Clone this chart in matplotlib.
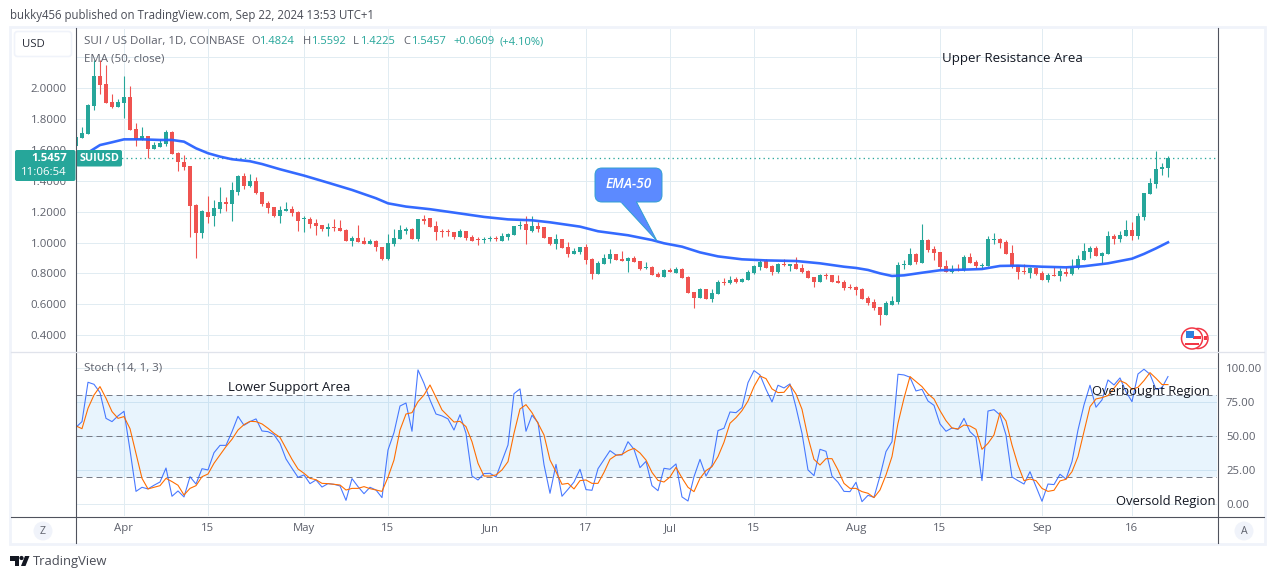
import matplotlib
matplotlib.use("Agg")
import matplotlib.dates as mdates
import matplotlib.pyplot as plt
import numpy as np
import pandas as pd
from matplotlib.patches import Circle, FancyBboxPatch, Polygon, Rectangle

plt.rcParams['font.family'] = ['Open Sans', 'DejaVu Sans']

# daily candles, Mar 24 - Sep 22 2024
dates = pd.date_range('2024-03-24', '2024-09-22')

opens = [
    1.628,1.680,1.704,1.885,2.080,2.028,1.911,1.881,1.907,1.942,
    1.734,1.665,1.691,1.607,1.622,1.639,1.717,1.579,1.520,1.496,
    1.243,1.064,1.198,1.172,1.218,1.263,1.250,1.328,1.432,1.367,
    1.399,1.328,1.256,1.230,1.172,1.207,1.215,1.198,1.150,1.155,
    1.127,1.114,1.090,1.101,1.094,1.081,1.012,1.029,1.010,0.993,
    1.010,0.971,0.893,0.991,1.023,1.077,1.090,1.023,1.153,1.157,
    1.107,1.075,1.073,1.068,1.036,1.075,1.036,1.023,1.014,1.025,
    1.032,1.012,1.036,1.049,1.105,1.120,1.075,1.107,1.101,1.036,
    0.990,1.023,0.971,0.926,0.939,0.971,0.893,0.796,0.861,0.893,
    0.926,0.893,0.882,0.900,0.880,0.835,0.841,0.796,0.777,0.822,
    0.802,0.828,0.777,0.679,0.640,0.699,0.634,0.666,0.744,0.738,
    0.764,0.744,0.757,0.802,0.841,0.880,0.848,0.809,0.861,0.848,
    0.861,0.835,0.815,0.777,0.744,0.790,0.790,0.751,0.744,0.712,
    0.712,0.699,0.640,0.614,0.582,0.530,0.595,0.614,0.854,0.854,
    0.926,0.867,1.016,0.958,0.939,0.848,0.809,0.828,0.822,0.906,
    0.874,0.848,0.848,1.019,1.023,1.003,0.932,0.854,0.815,0.802,
    0.835,0.802,0.757,0.790,0.783,0.809,0.796,0.835,0.887,0.939,
    0.965,0.913,0.926,1.042,1.023,1.042,1.081,1.042,1.166,1.315,
    1.380,1.477,1.4824,
]
highs = [
    1.788,1.751,1.896,2.184,2.184,2.151,1.963,1.929,2.080,2.015,
    1.773,1.751,1.691,1.654,1.669,1.730,1.725,1.587,1.568,1.496,
    1.250,1.211,1.302,1.276,1.362,1.293,1.395,1.438,1.449,1.445,
    1.423,1.328,1.272,1.230,1.237,1.263,1.237,1.207,1.172,1.168,
    1.150,1.114,1.124,1.150,1.146,1.086,1.042,1.114,1.034,1.023,
    1.016,0.971,1.055,1.086,1.114,1.099,1.094,1.153,1.179,1.157,
    1.142,1.090,1.090,1.071,1.088,1.077,1.049,1.038,1.034,1.042,
    1.042,1.064,1.064,1.109,1.142,1.172,1.172,1.135,1.101,1.036,
    1.055,1.023,1.003,0.965,0.971,0.990,0.900,0.880,0.926,0.958,
    0.926,0.945,0.906,0.913,0.880,0.874,0.848,0.809,0.828,0.835,
    0.841,0.835,0.783,0.679,0.705,0.699,0.699,0.757,0.770,0.783,
    0.775,0.770,0.822,0.854,0.887,0.893,0.854,0.867,0.893,0.861,
    0.906,0.861,0.822,0.777,0.796,0.802,0.790,0.790,0.757,0.731,
    0.718,0.705,0.653,0.634,0.582,0.621,0.653,0.874,0.887,0.965,
    0.932,1.120,1.023,0.977,0.941,0.887,0.854,0.861,0.919,0.932,
    0.887,0.867,1.042,1.062,1.029,1.016,0.984,0.854,0.861,0.841,
    0.841,0.815,0.802,0.841,0.835,0.841,0.893,0.919,0.997,0.977,
    0.977,0.939,1.075,1.055,1.075,1.146,1.133,1.191,1.321,1.418,
    1.594,1.516,1.5592,
]
lows = [
    1.628,1.680,1.704,1.860,1.961,1.907,1.875,1.877,1.808,1.730,
    1.626,1.665,1.546,1.607,1.622,1.626,1.574,1.464,1.470,1.038,
    0.902,1.032,1.124,1.107,1.189,1.205,1.142,1.308,1.347,1.362,
    1.313,1.239,1.194,1.166,1.129,1.207,1.172,1.077,1.071,1.094,
    1.049,1.075,1.042,1.077,1.073,1.012,0.978,1.006,0.991,0.991,
    0.947,0.887,0.889,0.978,1.021,1.055,1.023,1.012,1.120,1.101,
    1.016,1.038,1.042,1.023,1.034,1.016,1.010,0.984,0.999,1.012,
    1.012,1.010,1.016,1.049,1.088,0.990,1.068,1.071,1.029,0.984,
    0.958,0.965,0.906,0.926,0.926,0.861,0.764,0.796,0.861,0.867,
    0.887,0.880,0.809,0.874,0.822,0.828,0.790,0.777,0.777,0.809,
    0.802,0.770,0.673,0.575,0.640,0.634,0.614,0.666,0.725,0.731,
    0.738,0.744,0.757,0.798,0.822,0.835,0.790,0.802,0.848,0.815,
    0.828,0.802,0.770,0.712,0.744,0.764,0.744,0.738,0.692,0.699,
    0.660,0.634,0.595,0.562,0.465,0.530,0.595,0.601,0.828,0.854,
    0.861,0.867,0.939,0.887,0.828,0.809,0.802,0.818,0.818,0.867,
    0.835,0.835,0.848,0.990,0.965,0.926,0.835,0.764,0.796,0.770,
    0.790,0.757,0.744,0.783,0.751,0.783,0.790,0.828,0.887,0.900,
    0.913,0.867,0.926,0.990,1.003,1.042,1.016,1.023,1.146,1.315,
    1.354,1.438,1.4225,
]
closes = [
    1.687,1.708,1.892,2.080,2.022,1.907,1.881,1.914,1.942,1.730,
    1.665,1.691,1.607,1.632,1.643,1.717,1.574,1.522,1.492,1.237,
    1.064,1.205,1.166,1.224,1.263,1.252,1.341,1.432,1.367,1.397,
    1.319,1.250,1.224,1.172,1.211,1.218,1.194,1.140,1.157,1.120,
    1.107,1.088,1.101,1.094,1.075,1.012,1.027,1.006,0.991,1.010,
    0.969,0.893,0.997,1.029,1.081,1.088,1.023,1.153,1.142,1.101,
    1.071,1.071,1.066,1.038,1.075,1.032,1.012,1.016,1.025,1.032,
    1.025,1.042,1.058,1.107,1.116,1.081,1.107,1.088,1.029,0.990,
    1.023,0.965,0.926,0.945,0.971,0.887,0.796,0.867,0.900,0.926,
    0.887,0.882,0.900,0.874,0.828,0.841,0.790,0.777,0.822,0.809,
    0.828,0.770,0.673,0.640,0.699,0.634,0.673,0.744,0.738,0.757,
    0.744,0.764,0.809,0.848,0.874,0.835,0.809,0.861,0.854,0.861,
    0.828,0.809,0.770,0.744,0.790,0.783,0.744,0.738,0.705,0.705,
    0.692,0.634,0.608,0.575,0.530,0.608,0.621,0.854,0.861,0.926,
    0.874,1.016,0.952,0.932,0.841,0.809,0.828,0.822,0.906,0.867,
    0.848,0.854,1.023,1.025,0.997,0.926,0.848,0.809,0.809,0.835,
    0.796,0.757,0.790,0.783,0.815,0.796,0.841,0.893,0.945,0.965,
    0.913,0.932,1.042,1.023,1.049,1.081,1.042,1.172,1.321,1.386,
    1.477,1.490,1.5457,
]

# EMA read at knots, days counted from Apr 1
ema_days = [-8,-6,-4,-2,0,3,6,8,10,12,14,16,18,21,23,26,30,34,38,42,44,47,51,
            55,60,64,68,71,76,79,84,88,90,93,96,99,103,107,112,116,120,122,
            124,126,128,130,133,136,140,143,146,149,153,157,160,164,168,170,172,174]
ema_values = [1.56,1.583,1.632,1.650,1.669,1.669,1.665,1.665,1.654,1.611,1.579,1.557,
              1.540,1.527,1.509,1.475,1.434,1.388,1.341,1.287,1.254,1.233,1.216,
              1.194,1.166,1.150,1.144,1.131,1.103,1.073,1.047,1.016,0.995,0.973,
              0.936,0.910,0.891,0.884,0.880,0.865,0.843,0.835,
              0.822,0.800,0.783,0.787,0.804,0.820,0.824,0.828,0.848,0.850,0.843,
              0.839,0.846,0.865,0.895,0.926,0.962,1.001]

stoch_k = [
    56.5,60.7,89.7,88.2,82.1,63.1,60.7,64.9,68.3,39.8,
    9.3,12.3,11.1,13.8,16.2,26.5,5.7,9.6,5.2,20.1,
    14.7,26.0,25.1,37.8,43.2,43.2,53.3,64.6,58.0,60.7,
    62.7,53.8,53.3,51.1,44.7,33.2,26.3,19.7,21.4,15.0,
    17.7,12.5,15.0,14.5,13.3,2.7,18.7,12.8,7.6,12.3,
    10.3,4.7,39.8,52.6,72.2,74.4,53.6,98.8,88.9,76.7,
    66.3,64.9,62.7,54.5,65.8,52.1,20.6,17.7,22.4,22.6,
    19.9,31.7,43.5,81.3,84.8,53.6,65.4,60.0,29.0,7.9,
    29.2,5.7,10.8,16.2,25.6,10.6,10.1,26.0,32.7,39.3,
    36.1,36.1,45.9,40.3,26.8,31.4,13.5,9.8,26.3,25.6,
    29.5,5.2,2.2,20.1,32.9,20.6,28.7,54.1,55.8,67.8,
    67.3,71.0,89.4,98.3,95.1,84.5,75.2,87.5,85.5,88.5,
    71.3,52.1,25.1,20.9,40.3,38.8,20.6,16.0,9.3,9.1,
    16.0,1.7,6.4,4.9,20.6,38.6,45.9,95.6,95.1,93.4,
    83.3,84.5,75.9,72.7,59.0,53.6,56.0,55.0,63.1,53.3,
    49.1,17.2,68.5,69.5,65.6,50.9,19.9,17.2,14.7,23.8,
    12.8,2.0,14.7,14.3,21.9,18.4,31.2,54.5,73.0,87.5,
    71.3,76.7,91.4,87.7,92.9,82.8,75.4,95.8,99.3,95.6,
    84.5,85.7,93.9,
]
stoch_d = [
    57.5,55.5,70.5,80.3,86.5,77.9,68.1,63.1,64.4,55.5,
    37.3,18.9,11.1,12.3,13.5,18.9,16.5,13.8,6.6,11.5,
    13.5,20.1,22.1,30.0,36.1,42.3,47.7,54.5,58.5,60.9,
    60.7,59.0,55.8,52.1,49.1,41.0,32.9,25.8,22.6,18.9,
    17.9,15.2,15.0,14.5,14.0,10.3,11.5,11.5,12.8,11.3,
    10.3,9.3,19.7,32.4,54.5,66.3,67.3,75.4,80.3,87.7,
    78.6,69.3,64.9,60.4,60.9,57.0,45.9,30.0,20.6,20.6,
    21.4,25.1,31.2,52.1,70.0,73.2,67.3,59.5,50.9,32.4,
    23.8,14.5,15.2,11.1,17.2,17.7,15.2,15.2,23.3,32.9,
    35.9,36.6,39.3,41.0,37.6,32.4,23.3,17.4,16.2,19.9,
    27.0,19.2,12.3,9.1,18.9,24.6,27.5,34.9,45.5,59.5,
    63.6,68.8,75.9,86.5,94.3,92.4,84.8,82.1,82.3,87.7,
    81.1,69.8,49.1,32.9,28.7,33.4,33.4,25.1,15.2,11.5,
    11.5,9.1,7.9,4.7,10.3,21.4,34.9,59.5,77.9,93.9,
    90.2,86.5,81.1,77.4,68.8,61.4,56.0,55.3,58.2,57.5,
    55.0,40.3,44.7,50.9,67.3,61.2,43.5,28.7,17.2,18.4,
    17.2,11.5,9.3,10.1,17.0,18.2,23.8,34.9,53.3,71.7,
    77.4,78.4,79.9,85.3,90.9,88.9,84.5,86.0,90.9,96.8,
    92.6,88.0,88.0,
]

time_ticks = ['2024-04-01','2024-04-15','2024-05-01','2024-05-15','2024-06-01','2024-06-17',
              '2024-07-01','2024-07-15','2024-08-01','2024-08-15','2024-09-01','2024-09-16']
time_labels = ['Apr','15','May','15','Jun','17','Jul','15','Aug','15','Sep','16']
price_ticks = [0.4,0.6,0.8,1.0,1.2,1.4,1.6,1.8,2.0,2.2]
# the 2.2 gridline has no label in the reference
price_labels = ['0.4000','0.6000','0.8000','1.0000','1.2000','1.4000','1.6000','1.8000','2.0000','']
stoch_ticks = [0,25,50,75,100]
last_price = 1.5457

GREEN = '#26a69a'
RED = '#ef5350'
BLUE = '#2962ff'
ORANGE = '#ff6d00'
GRID = '#e1ecf2'
AXIS = '#50535e'
LABEL = '#5d606b'

W, H = 1281, 579
PX = 0.72  # one pixel in points at dpi 100


def pane(left, top, right, bottom):
    """axes placed by pixel edges"""
    return fig.add_axes([left / W, 1 - bottom / H, (right - left) / W, (bottom - top) / H])


def draw_candles(ax, x):
    o, h, l, c = map(np.array, (opens, highs, lows, closes))
    colors = [GREEN if b >= a else RED for a, b in zip(o, c)]
    ax.vlines(x, l, h, colors=colors, lw=PX * 1.1, zorder=3)
    ax.bar(x, np.maximum(np.abs(c - o), 0.006), bottom=np.minimum(o, c), width=0.82,
           color=colors, linewidth=0, zorder=3)


def style_pane(ax, x0, x1):
    ax.set_xlim(x0, x1)
    ax.set_xticks(mdates.date2num(pd.to_datetime(time_ticks)))
    ax.grid(True, color=GRID, lw=PX)
    ax.set_axisbelow(True)
    for s in ax.spines.values():
        s.set_visible(False)
    ax.tick_params(length=0, labelsize=8.2, labelcolor=LABEL)


fig = plt.figure(figsize=(W / 100, H / 100), dpi=100, facecolor='white')

x = mdates.date2num(dates)
apr1 = mdates.date2num(pd.Timestamp('2024-04-01'))
x0, x1 = apr1 - 8, apr1 + 182.17

# price pane
ax = pane(76, 29, 1217, 350)
style_pane(ax, x0, x1)
ax.set_ylim(0.3029, 2.3846)
ax.set_yticks(price_ticks)
ax.set_yticklabels(price_labels)
ax.tick_params(axis='y', pad=6.5)
ax.tick_params(axis='x', labelbottom=False)
ax.axhline(last_price, color=GREEN, lw=PX * 1.3, ls=(0, (1, 2.5)), zorder=2)
draw_candles(ax, x)
ax.plot(apr1 + np.array(ema_days), ema_values, color=BLUE, lw=PX * 2.6, alpha=0.95, zorder=4)

# stochastic pane
ax2 = pane(76, 352, 1217, 516)
style_pane(ax2, x0, x1)
ax2.set_ylim(-8.85, 112.0)
ax2.set_yticks(stoch_ticks)
ax2.set_yticklabels([f'{v:.2f}' for v in stoch_ticks])
ax2.yaxis.tick_right()
ax2.tick_params(axis='y', pad=6.5)
ax2.set_xticklabels(time_labels)
ax2.tick_params(axis='x', pad=5)
ax2.axhspan(20, 80, color='#2196f3', alpha=0.1, lw=0, zorder=1)
for level in (80, 50, 20):
    ax2.axhline(level, color='#787b86', lw=PX, ls=(0, (6, 4)), zorder=2)
ax2.plot(x, stoch_k, color=BLUE, lw=PX * 1.1, alpha=0.85, zorder=3)
ax2.plot(x, stoch_d, color=ORANGE, lw=PX * 1.1, zorder=4)

# everything outside the data goes on a pixel overlay
ov = fig.add_axes([0, 0, 1, 1], zorder=10)
ov.set_xlim(0, W)
ov.set_ylim(H, 0)
ov.axis('off')

# frame and separators
ov.add_patch(Rectangle((10, 27), 1255, 517, fill=False, ec='#f0f3fa', lw=2))
ov.plot([75.5, 75.5], [28, 543], color=AXIS, lw=PX * 1.1)
ov.plot([1217.5, 1217.5], [28, 543], color=AXIS, lw=PX * 1.1)
ov.plot([11, 1264], [516.5, 516.5], color=AXIS, lw=PX * 1.1)
ov.plot([11, 1264], [351.5, 351.5], color='#e0e3eb', lw=PX * 1.3)

# header and legend
ov.text(10, 15, 'bukky456 published on TradingView.com, Sep 22, 2024 13:53 UTC+1',
        fontsize=8.3, color='#4a4d57', va='center')
ov.add_patch(FancyBboxPatch((14.5, 31.5), 57, 25, boxstyle='round,pad=0,rounding_size=3',
                            fc='white', ec='#f0f3fa', lw=1.2))
ov.text(33.5, 44.5, 'USD', fontsize=8.2, color='#2a2e39', ha='center', va='center')
ov.text(84, 41.5, 'SUI / US Dollar, 1D, COINBASE', fontsize=8.25, color=LABEL, va='center')
legend_parts = [(251, 'O', LABEL), (259, '1.4824', GREEN), (303, 'H', LABEL), (311, '1.5592', GREEN),
                (353, 'L', LABEL), (360, '1.4225', GREEN), (403, 'C', LABEL), (411, '1.5457', GREEN),
                (453, '+0.0609', GREEN), (499, '(+4.10%)', GREEN)]
for px, s, col in legend_parts:
    ov.text(px, 41.5, s, fontsize=8.0, color=col, va='center')
ov.text(84, 59, 'EMA (50, close)', fontsize=8.25, color=LABEL, va='center')
ov.text(84, 367.5, 'Stoch (14, 1, 3)', fontsize=8.25, color=LABEL, va='center')

# hand drawn labels
ov.text(942, 58.5, 'Upper Resistance Area', fontsize=9.5, color='#131722', va='center')
ov.text(228, 387.5, 'Lower Support Area', fontsize=9.45, color='#131722', va='center')
ov.text(1092, 391, 'Overbought Region', fontsize=9.4, color='#131722', va='center')
ov.text(1116, 501.5, 'Oversold Region', fontsize=9.4, color='#131722', va='center')

# last price tags
ov.add_patch(FancyBboxPatch((15, 150), 60.5, 31, boxstyle='round,pad=0,rounding_size=2', fc=GREEN, lw=0))
ov.add_patch(FancyBboxPatch((76, 150), 46, 16.5, boxstyle='round,pad=0,rounding_size=2', fc=GREEN, lw=0))
ov.text(67, 158.5, '1.5457', fontsize=8.2, color='white', weight='bold', ha='right', va='center')
ov.text(67, 172.5, '11:06:54', fontsize=8.2, color='white', ha='right', va='center')
ov.text(99, 158.5, 'SUIUSD', fontsize=7.8, color='white', weight='bold', ha='center', va='center')

# EMA-50 callout
ov.add_patch(Polygon([(620, 201), (636, 201), (657, 241)], closed=True, fc='#5c8aff', ec='#2f9fd0', lw=0.7))
ov.add_patch(FancyBboxPatch((595, 168), 67, 34, boxstyle='round,pad=0,rounding_size=7',
                            fc='#5c8aff', ec='#2f9fd0', lw=0.7))
ov.add_patch(Rectangle((620.5, 198), 15, 4.5, fc='#5c8aff', lw=0))
ov.text(628.5, 184.5, 'EMA-50', fontsize=9.8, color='white', style='italic', weight='semibold',
        ha='center', va='center')

# corner buttons
ov.add_patch(Circle((43, 531), 9.5, fc='#f0f3fa', lw=0))
ov.text(43, 531.5, 'Z', fontsize=7.6, color=LABEL, ha='center', va='center')
ov.add_patch(Circle((1244, 531), 9.5, fc='#f0f3fa', lw=0))
ov.text(1244, 531.5, 'A', fontsize=7.6, color=LABEL, ha='center', va='center')

# flag icon
ov.add_patch(Circle((1198, 338.5), 10, fc='white', ec='#f23645', lw=1.1))
ov.add_patch(Rectangle((1204, 336), 3, 4, fc='#f23645', lw=0))
ov.add_patch(Circle((1192, 338.5), 10.5, fc='white', ec='#f23645', lw=1.1))
ov.add_patch(Rectangle((1193, 336), 8, 3, fc='#f23645', lw=0))
ov.add_patch(Rectangle((1185, 342.5), 14, 2.5, fc='#f23645', lw=0))
ov.add_patch(Rectangle((1186, 331), 8, 7, fc='#2f80dd', lw=0))

# logo
ov.add_patch(Polygon([(10, 556), (19, 556), (19, 566), (15, 566), (15, 560.5), (10, 560.5)], fc='#131722', lw=0))
ov.add_patch(Circle((21.5, 558), 2.1, fc='#131722', lw=0))
ov.add_patch(Polygon([(25, 556), (29.5, 556), (25.5, 566), (21, 566)], fc='#131722', lw=0))
ov.text(33, 561.5, 'TradingView', fontsize=9.4, color='#4a4d57', va='center')

fig.savefig('out.png', dpi=100, facecolor='white')
